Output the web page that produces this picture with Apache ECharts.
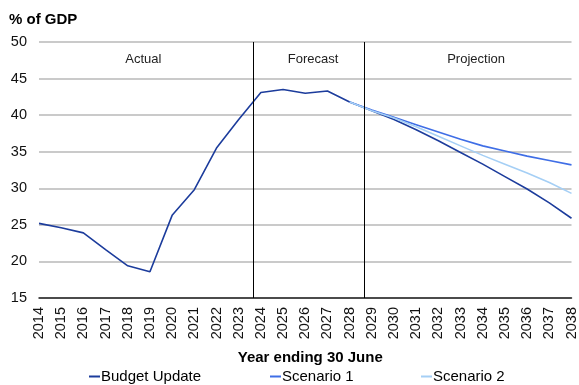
<!DOCTYPE html>
<html>
<head>
<meta charset="utf-8">
<style>
  html, body { margin: 0; padding: 0; background: #fff; }
  #chart { width: 579px; height: 385px; }
</style>
<script src="https://cdn.jsdelivr.net/npm/echarts@6/dist/echarts.min.js"></script>
</head>
<body>
<div id="chart"></div>
<script>
// Net debt, % of GDP, by year ending 30 June
const years = [2014, 2015, 2016, 2017, 2018, 2019, 2020, 2021, 2022, 2023, 2024, 2025, 2026,
               2027, 2028, 2029, 2030, 2031, 2032, 2033, 2034, 2035, 2036, 2037, 2038];
const budgetUpdate = [25.2, 24.6, 23.9, 21.6, 19.4, 18.6, 26.3, 29.8, 35.5, 39.4, 43.1, 43.5, 43.0,
                      43.3, 41.8, 40.6, 39.4, 38.0, 36.5, 34.9, 33.3, 31.6, 29.9, 28.0, 25.9];
const scenarioYears = [2028, 2029, 2030, 2031, 2032, 2033, 2034, 2035, 2036, 2037, 2038];
const scenario1 = [41.8, 40.7, 39.7, 38.7, 37.7, 36.7, 35.8, 35.1, 34.4, 33.8, 33.2];
const scenario2 = [41.8, 40.6, 39.6, 38.4, 37.1, 35.8, 34.5, 33.3, 32.1, 30.8, 29.3];

// Period boundaries (between years) and where each period caption sits
const periodBreaks = [2023.65, 2028.65];
const periodNames = ['Actual', 'Forecast', 'Projection'];
const periodLabelAt = [2018.7, 2026.35, 2033.7];

const seriesNames = ['Budget Update', 'Scenario 1', 'Scenario 2'];
const seriesColors = ['#1c3c9c', '#3f6ee6', '#a5cff5'];
const legendLeft = [84, 265, 416];

const font = '"Liberation Sans", Arial, sans-serif';
const pair = (xs, ys) => xs.map((x, i) => [x, ys[i]]);

const chart = echarts.init(document.getElementById('chart'));
chart.setOption({
  animation: false,
  textStyle: { fontFamily: font },
  title: {
    text: '% of GDP', left: 4, top: 7,
    textStyle: { fontFamily: font, fontSize: 15, fontWeight: 'bold', color: '#000' }
  },
  grid: { left: 39, right: 4, top: 42, bottom: 87 },
  legend: seriesNames.map((n, i) => ({
    top: 364, left: legendLeft[i],
    itemWidth: 11, itemHeight: 2, icon: 'rect',
    textStyle: { fontFamily: font, fontSize: 15, color: '#000', padding: [0, 0, 0, -4] },
    data: [n]
  })),
  xAxis: {
    type: 'value', min: 2014, max: 2038, interval: 1,
    name: 'Year ending 30 June', nameLocation: 'middle', nameGap: 52,
    nameMoveOverlap: false,
    nameTextStyle: { fontFamily: font, fontSize: 15, fontWeight: 'bold', color: '#000',
                     padding: [0, 0, 0, 10] },
    axisLine: { lineStyle: { color: '#222', width: 1.5 } },
    axisTick: { show: false },
    splitLine: { show: false },
    axisLabel: { rotate: 90, fontSize: 14.5, color: '#111', margin: 9, fontFamily: font,
                 formatter: v => String(v) }
  },
  yAxis: {
    type: 'value', min: 15, max: 50, interval: 5,
    axisLine: { show: false }, axisTick: { show: false },
    splitLine: { lineStyle: { color: '#b8b8b8', width: 1.5 } },
    axisLabel: { fontSize: 14.5, color: '#111', margin: 12, fontFamily: font }
  },
  series: [
    {
      name: seriesNames[0], type: 'line', data: pair(years, budgetUpdate),
      showSymbol: false, symbol: 'none',
      lineStyle: { color: seriesColors[0], width: 1.6 }, itemStyle: { color: seriesColors[0] },
      markLine: {
        silent: true, symbol: 'none', label: { show: false },
        lineStyle: { color: '#000', width: 1, type: 'solid' },
        data: periodBreaks.map(x => ({ xAxis: x }))
      },
      markPoint: {
        silent: true, symbol: 'circle', symbolSize: 2,
        itemStyle: { color: 'rgba(0,0,0,0)' },
        label: { show: true, position: 'inside', offset: [0, 17], fontSize: 13,
                 color: '#222', fontFamily: font, formatter: p => p.name },
        data: periodNames.map((n, i) => ({ name: n, coord: [periodLabelAt[i], 50] }))
      }
    },
    {
      name: seriesNames[1], type: 'line', data: pair(scenarioYears, scenario1),
      showSymbol: false, symbol: 'none',
      lineStyle: { color: seriesColors[1], width: 1.6 }, itemStyle: { color: seriesColors[1] }
    },
    {
      name: seriesNames[2], type: 'line', data: pair(scenarioYears, scenario2),
      showSymbol: false, symbol: 'none',
      lineStyle: { color: seriesColors[2], width: 1.6 }, itemStyle: { color: seriesColors[2] }
    }
  ]
});
</script>
</body>
</html>
